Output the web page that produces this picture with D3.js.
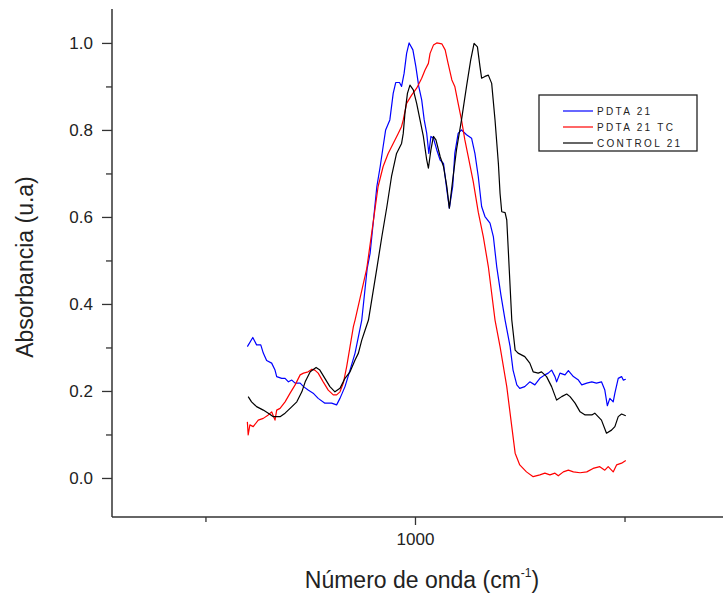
<!DOCTYPE html>
<html>
<head>
<meta charset="utf-8">
<script src="https://cdn.jsdelivr.net/npm/d3@7"></script>
<style>
  body { margin: 0; background: #fff; }
  text { font-family: "Liberation Sans", Arial, sans-serif; fill: #222; }
</style>
</head>
<body>
<div id="chart"></div>
<script>
// wavenumber (cm-1) and absorbance
var pdtaX = [600,613,622,632,638,646,658,666,670,682,690,698,706,714,726,734,745,757,769,785,801,813,821,833,845,857,865,873,886,893,901,909,917,924,930,940,948,954,963,968,974,980,986,995,1002,1009,1016,1022,1028,1033,1038,1044,1052,1060,1068,1076,1082,1090,1095,1103,1111,1123,1135,1143,1151,1159,1167,1179,1187,1195,1205,1215,1227,1234,1243,1250,1262,1274,1286,1298,1310,1318,1326,1334,1338,1346,1358,1366,1378,1390,1398,1410,1422,1433,1445,1453,1459,1465,1473,1477,1485,1493,1497,1503];
var pdtaY = [0.302,0.323,0.306,0.306,0.287,0.270,0.264,0.248,0.233,0.229,0.229,0.221,0.225,0.218,0.218,0.210,0.202,0.195,0.183,0.172,0.172,0.168,0.183,0.210,0.248,0.287,0.325,0.363,0.482,0.517,0.593,0.670,0.716,0.762,0.800,0.823,0.884,0.909,0.909,0.900,0.930,0.976,1.000,0.984,0.946,0.900,0.869,0.823,0.792,0.746,0.785,0.781,0.754,0.731,0.723,0.662,0.620,0.670,0.746,0.792,0.800,0.789,0.781,0.746,0.693,0.624,0.601,0.586,0.555,0.486,0.421,0.363,0.302,0.248,0.214,0.206,0.210,0.221,0.214,0.229,0.237,0.241,0.248,0.233,0.221,0.241,0.237,0.247,0.233,0.225,0.214,0.218,0.221,0.218,0.221,0.202,0.166,0.183,0.175,0.195,0.229,0.233,0.225,0.227];

var tcX = [600,602,606,614,626,638,650,658,666,670,678,690,702,714,726,734,745,754,761,769,781,793,805,813,821,829,837,845,853,857,885,901,912,924,936,948,960,968,972,980,992,1004,1016,1024,1032,1036,1044,1052,1064,1072,1079,1088,1095,1103,1111,1119,1127,1139,1151,1163,1175,1191,1203,1219,1231,1239,1250,1266,1282,1298,1310,1322,1334,1342,1354,1366,1378,1394,1410,1425,1441,1453,1461,1473,1481,1493,1503];
var tcY = [0.129,0.099,0.122,0.118,0.133,0.137,0.145,0.152,0.133,0.156,0.160,0.175,0.195,0.214,0.237,0.241,0.244,0.250,0.248,0.241,0.221,0.202,0.191,0.191,0.198,0.218,0.256,0.302,0.348,0.363,0.482,0.593,0.670,0.716,0.746,0.769,0.792,0.808,0.823,0.861,0.880,0.896,0.919,0.938,0.953,0.976,0.995,1.000,0.998,0.984,0.953,0.915,0.900,0.861,0.823,0.777,0.739,0.681,0.611,0.555,0.486,0.363,0.302,0.210,0.118,0.057,0.030,0.014,0.003,0.007,0.011,0.007,0.011,0.005,0.014,0.018,0.014,0.012,0.014,0.022,0.026,0.018,0.026,0.014,0.030,0.034,0.040];

var ctrlX = [602,610,622,638,650,662,678,690,702,718,730,738,750,764,773,785,797,809,821,833,845,857,865,873,881,889,909,921,933,944,956,968,972,976,982,988,996,1004,1012,1020,1028,1032,1038,1044,1050,1060,1068,1076,1082,1090,1099,1111,1123,1133,1141,1149,1155,1159,1167,1175,1183,1191,1199,1203,1207,1215,1219,1223,1225,1231,1239,1246,1262,1274,1282,1294,1302,1314,1326,1338,1350,1362,1370,1382,1394,1406,1422,1429,1437,1445,1457,1469,1477,1485,1493,1503];
var ctrlY = [0.187,0.175,0.164,0.156,0.149,0.141,0.141,0.149,0.160,0.175,0.198,0.221,0.244,0.254,0.248,0.229,0.210,0.198,0.206,0.229,0.244,0.271,0.287,0.317,0.340,0.363,0.482,0.555,0.624,0.693,0.746,0.769,0.792,0.838,0.884,0.903,0.892,0.861,0.823,0.785,0.731,0.712,0.754,0.785,0.777,0.739,0.716,0.670,0.620,0.685,0.754,0.823,0.900,0.961,0.999,0.991,0.946,0.919,0.923,0.926,0.907,0.823,0.723,0.654,0.612,0.610,0.593,0.517,0.478,0.363,0.294,0.287,0.279,0.264,0.244,0.241,0.244,0.233,0.210,0.179,0.187,0.193,0.187,0.172,0.152,0.145,0.145,0.149,0.141,0.133,0.103,0.110,0.118,0.141,0.147,0.143];

var seriesNames = ["PDTA 21", "PDTA 21 TC", "CONTROL 21"];
var seriesColors = ["#0000ff", "#ff0000", "#000000"];
var yTicks = [0, 0.2, 0.4, 0.6, 0.8, 1.0];
var yMinor = [0.1, 0.3, 0.5, 0.7, 0.9];
var xTicks = [1000];
var xMinor = [500, 1500];

var svgWidth = 723, svgHeight = 597;
var plotLeft = 112, plotRight = 723, plotTop = 9, plotBottom = 517;

var svg = d3.select("#chart").append("svg")
  .attr("width", svgWidth)
  .attr("height", svgHeight);

var x = d3.scaleLinear().domain([277, 1735]).range([plotLeft, plotRight]);
var y = d3.scaleLinear().domain([-0.0897, 1.078]).range([plotBottom, plotTop]);

// minor ticks first so the axis lines sit on top
svg.append("g")
  .attr("transform", `translate(${plotLeft},0)`)
  .call(d3.axisLeft(y).tickValues(yMinor).tickSize(6).tickFormat(""))
  .call(g => g.select(".domain").remove())
  .selectAll("line").attr("stroke", "#333").attr("stroke-width", 1.3);

svg.append("g")
  .attr("transform", `translate(0,${plotBottom})`)
  .call(d3.axisBottom(x).tickValues(xMinor).tickSize(5).tickFormat(""))
  .call(g => g.select(".domain").remove())
  .selectAll("line").attr("stroke", "#333").attr("stroke-width", 1.3);

var yAxis = svg.append("g")
  .attr("transform", `translate(${plotLeft},0)`)
  .call(d3.axisLeft(y).tickValues(yTicks).tickSize(10).tickPadding(9).tickFormat(d3.format(".1f")));
yAxis.attr("font-size", 17).attr("font-family", "Liberation Sans, Arial");
yAxis.select(".domain").attr("stroke", "#333").attr("stroke-width", 1.5)
  .attr("d", `M0,${plotBottom}V${plotTop}`);
yAxis.selectAll("line").attr("stroke", "#333").attr("stroke-width", 1.3);
yAxis.selectAll("text").attr("fill", "#222");

var xAxis = svg.append("g")
  .attr("transform", `translate(0,${plotBottom})`)
  .call(d3.axisBottom(x).tickValues(xTicks).tickSize(8).tickPadding(8).tickFormat(d3.format("d")));
xAxis.attr("font-size", 17).attr("font-family", "Liberation Sans, Arial");
xAxis.select(".domain").attr("stroke", "#333").attr("stroke-width", 1.5)
  .attr("d", `M${plotLeft},0H${plotRight}`);
xAxis.selectAll("line").attr("stroke", "#333").attr("stroke-width", 1.3);
xAxis.selectAll("text").attr("fill", "#222");

// curves
var line = d3.line().x(d => x(d[0])).y(d => y(d[1]));
var allSeries = [d3.zip(pdtaX, pdtaY), d3.zip(tcX, tcY), d3.zip(ctrlX, ctrlY)];
allSeries.forEach(function(s, i) {
  svg.append("path")
    .datum(s)
    .attr("fill", "none")
    .attr("stroke", seriesColors[i])
    .attr("stroke-width", 1.2)
    .attr("stroke-linejoin", "round")
    .attr("d", line);
});

// axis titles
svg.append("text")
  .attr("transform", "translate(33,267) rotate(-90)")
  .attr("text-anchor", "middle")
  .style("font-size", "23px")
  .text("Absorbancia (u.a)");

var xt = svg.append("text")
  .attr("x", 422).attr("y", 588)
  .attr("text-anchor", "middle")
  .style("font-size", "23px");
xt.append("tspan").text("Número de onda (cm");
xt.append("tspan").attr("dy", -11).style("font-size", "12px").text("-1");
xt.append("tspan").attr("dy", 11).text(")");

// legend
var legend = svg.append("g");
legend.append("rect")
  .attr("x", 539).attr("y", 95).attr("width", 158).attr("height", 56)
  .attr("fill", "#fff").attr("stroke", "#222").attr("stroke-width", 1.3);
var rowsY = [111, 127, 143];
seriesNames.forEach(function(name, i) {
  legend.append("line")
    .attr("x1", 563).attr("x2", 593)
    .attr("y1", rowsY[i]).attr("y2", rowsY[i])
    .attr("stroke", seriesColors[i]).attr("stroke-width", 1.2);
  legend.append("text")
    .attr("x", 597).attr("y", rowsY[i]).attr("dy", "0.35em")
    .style("font-size", "10px")
    .style("letter-spacing", "2.3px")
    .text(name);
});
</script>
</body>
</html>
